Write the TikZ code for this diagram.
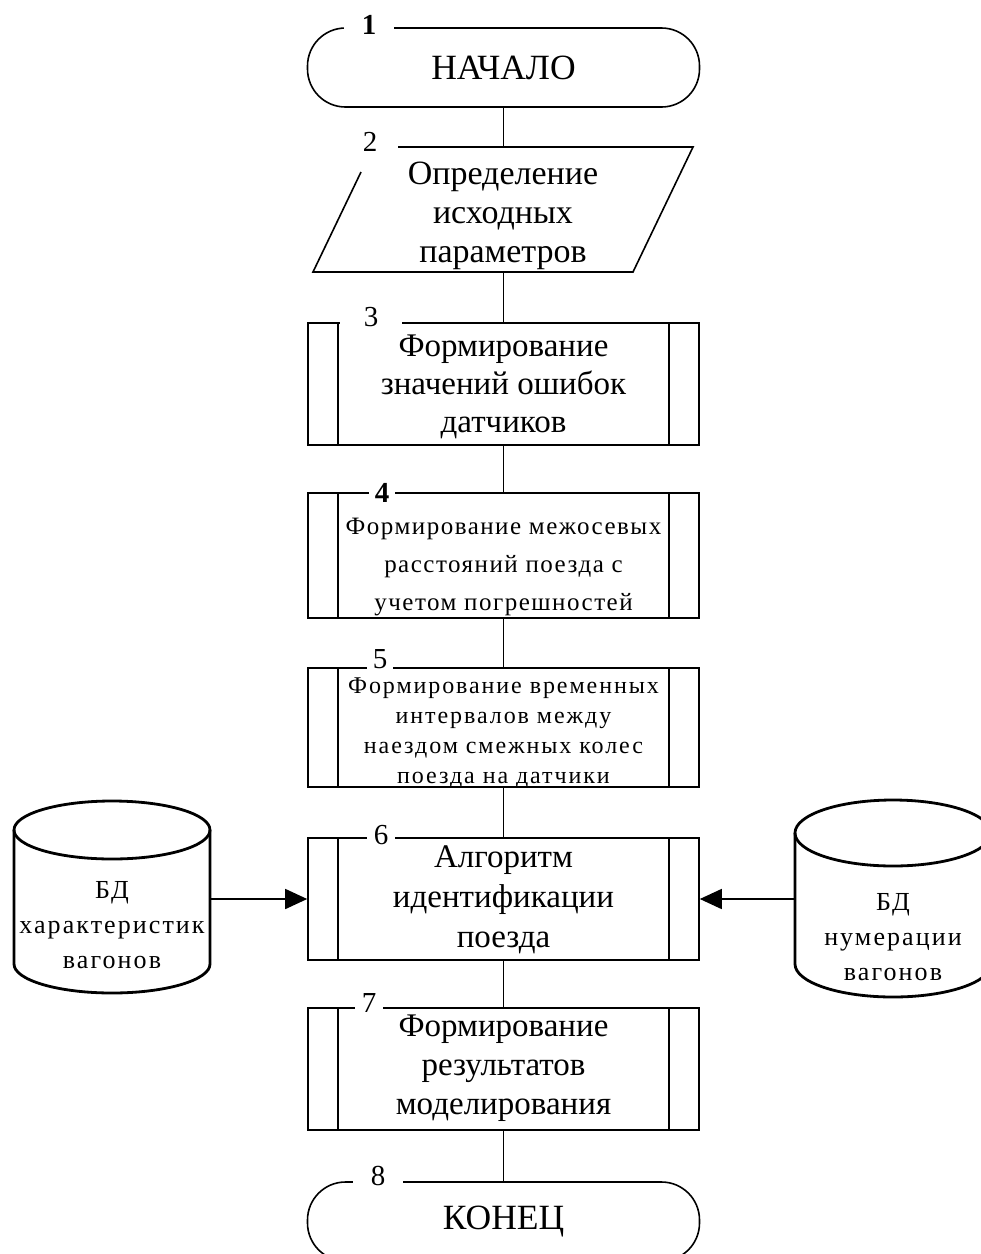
\documentclass[tikz,border=0pt]{standalone}
\usepackage{fontspec}
\setmainfont{Liberation Serif}
\newfontfamily\widefont[LetterSpace=8]{Liberation Serif}
\newfontfamily\midfont[LetterSpace=6]{Liberation Serif}
\usetikzlibrary{arrows.meta,calc}

\tikzset{
  x=1pt, y=-1pt,
  line/.style={line width=1.6pt},
  term/.style={draw, line width=1.6pt, rounded corners=38pt,
    minimum width=392pt, minimum height=79pt, inner sep=0pt,
    align=center, font=\fontsize{35.5}{40}\selectfont},
  proc/.style={draw, line width=1.6pt, minimum width=391pt, inner sep=0pt,
    path picture={
      \draw[line width=1.6pt]
        ([xshift=30pt]path picture bounding box.north west) --
        ([xshift=30pt]path picture bounding box.south west)
        ([xshift=-30pt]path picture bounding box.north east) --
        ([xshift=-30pt]path picture bounding box.south east);}},
  txt/.style={inner sep=0pt, align=center},
  num/.style={fill=white, inner sep=0pt, minimum height=22pt,
    font=\fontsize{29}{29}\selectfont},
  cyl/.style={line width=2.8pt},
  dbtext/.style={inner sep=0pt, minimum width=196pt, align=center,
    font=\widefont\fontsize{26}{35}\selectfont},
  arr/.style={line width=1.6pt, -{Triangle[length=22pt,width=20pt]}},
}

\begin{document}
\begin{tikzpicture}
\useasboundingbox[fill=white] (0,0) rectangle (981,1254);

% 1: start
\node[term] (start) at (503.5,67.5) {НАЧАЛО};
\node[num, minimum width=50pt, font=\bfseries\fontsize{29}{29}\selectfont] (n1) at (369,25) {1};

% 2: input parallelogram (top-left corner left open for the number)
\draw[line] (398,147) -- (693,147) -- (633,272) -- (313,272) -- (361,172);
\coordinate (in2t) at (503.5,147);
\coordinate (in2b) at (503.5,272);
\node[txt, font=\fontsize{34}{39}\selectfont] (in2) at (503,216)
  {Определение\\исходных\\параметров};
\node[font=\fontsize{29}{29}\selectfont, inner sep=0pt] (n2) at (370,142) {2};

% 3
\node[proc, minimum height=122pt] (b3) at (503.5,384) {};
\node[txt, font=\fontsize{33}{38}\selectfont] (t3) at (503.5,387)
  {Формирование\\значений ошибок\\датчиков};
\node[num, minimum width=62pt] (n3) at (371,317) {3};

% 4
\node[proc, minimum height=125pt] (b4) at (503.5,555.5) {};
\node[txt, font=\midfont\fontsize{25}{38}\selectfont] (t4) at (503.5,567)
  {Формирование межосевых\\расстояний поезда с\\учетом погрешностей};
\node[num, minimum width=26pt, font=\bfseries\fontsize{29}{29}\selectfont] (n4) at (382,493) {4};

% 5
\node[proc, minimum height=119pt] (b5) at (503.5,727.5) {};
\node[txt, font=\widefont\fontsize{24}{30}\selectfont] (t5) at (503.5,733)
  {Формирование временных\\интервалов между\\наездом смежных колес\\поезда на датчики};
\node[num, minimum width=26pt, minimum height=19pt] (n5) at (380,659) {5};

% 6
\node[proc, minimum height=122pt] (b6) at (503.5,899) {};
\node[txt, font=\fontsize{33}{40}\selectfont] (t6) at (503.5,900)
  {Алгоритм\\идентификации\\поезда};
\node[num, minimum width=28pt] (n6) at (381,835) {6};

% 7
\node[proc, minimum height=122pt] (b7) at (503.5,1069) {};
\node[txt, font=\fontsize{33}{39}\selectfont] (t7) at (503.5,1068)
  {Формирование\\результатов\\моделирования};
\node[num, minimum width=28pt] (n7) at (369,1003) {7};

% 8: end
\node[term] (end) at (503.5,1221.5) {КОНЕЦ};
\node[num, minimum width=50pt] (n8) at (378,1176) {8};

% databases
\draw[cyl] (14,830) -- (14,964)
  arc[start angle=180, end angle=360, x radius=98pt, y radius=29pt] -- (210,830);
\draw[cyl] (112,830) ellipse[x radius=98pt, y radius=29pt];
\node[dbtext] (db1) at (112,925) {БД\\характеристик\\вагонов};

\draw[cyl] (795,833) -- (795,964)
  arc[start angle=180, end angle=360, x radius=98pt, y radius=33pt] -- (991,833);
\draw[cyl] (893,833) ellipse[x radius=98pt, y radius=33pt];
\node[dbtext] (db2) at (893,937) {БД\\нумерации\\вагонов};

% flow lines
\draw[line] (start.south) -- (in2t);
\draw[line] (in2b) -- (b3.north);
\draw[line] (b3.south) -- (b4.north);
\draw[line] (b4.south) -- (b5.north);
\draw[line] (b5.south) -- (b6.north);
\draw[line] (b6.south) -- (b7.north);
\draw[line] (b7.south) -- (end.north);
\draw[arr] (db1.east |- b6.center) -- (b6.west);
\draw[arr] (db2.west |- b6.center) -- (b6.east);
\end{tikzpicture}
\end{document}
